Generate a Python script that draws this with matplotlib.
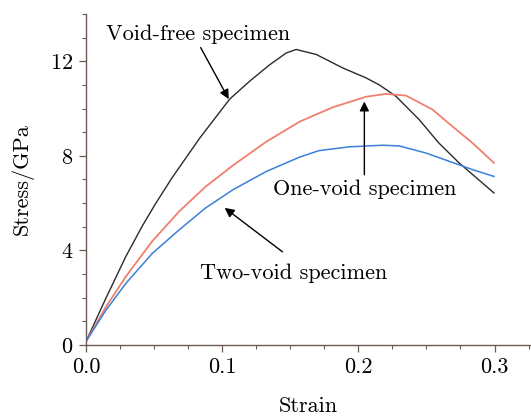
import matplotlib
matplotlib.use("Agg")
import matplotlib.pyplot as plt
from matplotlib.ticker import MultipleLocator

# values
black_x = [0.0, 0.0147, 0.0293, 0.0415, 0.0513, 0.0635, 0.0835, 0.1055, 0.12, 0.1348,
           0.147, 0.1543, 0.169, 0.1885, 0.2056, 0.2154, 0.2276, 0.2447, 0.259, 0.274, 0.2996]
black_y = [0.15, 1.99, 3.75, 5.05, 6.0, 7.1, 8.75, 10.4, 11.15, 11.85,
           12.35, 12.5, 12.29, 11.72, 11.3, 11.0, 10.52, 9.53, 8.55, 7.7, 6.43]

red_x = [0.0, 0.0147, 0.0293, 0.0488, 0.0684, 0.0879, 0.108, 0.1324, 0.157, 0.181,
         0.2056, 0.22, 0.235, 0.2544, 0.269, 0.2837, 0.2996]
red_y = [0.15, 1.62, 2.9, 4.4, 5.65, 6.7, 7.6, 8.6, 9.45, 10.05,
         10.5, 10.62, 10.55, 9.96, 9.25, 8.55, 7.7]

blue_x = [0.0, 0.0147, 0.0293, 0.0488, 0.0684, 0.0879, 0.108, 0.1324, 0.157, 0.171,
          0.193, 0.2178, 0.23, 0.2496, 0.2667, 0.2837, 0.2996]
blue_y = [0.15, 1.48, 2.61, 3.88, 4.87, 5.8, 6.57, 7.34, 7.95, 8.22,
          8.38, 8.45, 8.42, 8.12, 7.77, 7.42, 7.13]

x_ticks = [0.0, 0.1, 0.2, 0.3]
x_tick_labels = ["0.0", "0.1", "0.2", "0.3"]
y_ticks = [0, 4, 8, 12]

plt.rcParams['font.family'] = ['cmr10', 'DejaVu Serif']
plt.rcParams['axes.formatter.use_mathtext'] = True
plt.rcParams['font.size'] = 16

spine_color = '#6e5a55'

fig = plt.figure(figsize=(5.31, 4.17), dpi=100)
ax = fig.add_axes([0.162, 0.1727, 0.836, 0.7937])

ax.plot(black_x, black_y, color='#2b2b2b', lw=1.0)
ax.plot(red_x, red_y, color='#f0806e', lw=1.3)
ax.plot(blue_x, blue_y, color='#3b7fd9', lw=1.1)

ax.set_xlim(0, 0.326)
ax.set_ylim(0, 14)
ax.set_xticks(x_ticks)
ax.set_xticklabels(x_tick_labels)
ax.set_yticks(y_ticks)
ax.xaxis.set_minor_locator(MultipleLocator(0.025))
ax.yaxis.set_minor_locator(MultipleLocator(1))

for side in ['top', 'right']:
    ax.spines[side].set_visible(False)
for side in ['left', 'bottom']:
    ax.spines[side].set_color(spine_color)
    ax.spines[side].set_linewidth(1.0)

ax.tick_params(which='major', direction='out', length=5, width=0.9, color=spine_color,
               labelsize=16, pad=4)
ax.tick_params(which='minor', direction='out', length=3, width=0.8, color=spine_color)

ax.set_xlabel('Strain', fontsize=16, labelpad=14)
ax.set_ylabel('Stress/GPa', fontsize=16, labelpad=12)

arrow = dict(arrowstyle='-|>', color='black', lw=1.0, mutation_scale=14, shrinkA=0, shrinkB=0)
ax.annotate('', xy=(0.1048, 10.4), xytext=(0.0842, 12.58), arrowprops=arrow)
ax.text(0.0824, 13.14, 'Void-free specimen', ha='center', va='center', fontsize=16)

ax.annotate('', xy=(0.2044, 10.3), xytext=(0.2044, 7.2), arrowprops=arrow)
ax.text(0.2044, 6.57, 'One-void specimen', ha='center', va='center', fontsize=16)

ax.annotate('', xy=(0.1018, 5.8), xytext=(0.1443, 3.94), arrowprops=arrow)
ax.text(0.1527, 3.05, 'Two-void specimen', ha='center', va='center', fontsize=16)

fig.savefig('out.png', dpi=100)
